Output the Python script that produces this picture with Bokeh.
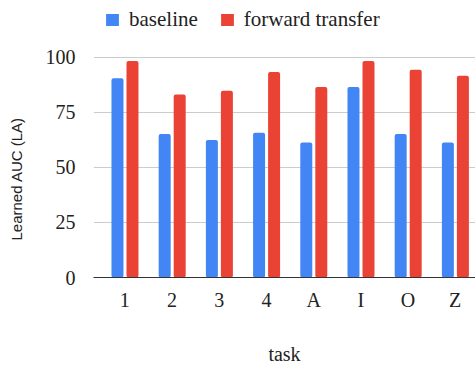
import math
from bokeh.plotting import figure
from bokeh.models import Range1d, FixedTicker, Legend, LegendItem, Title, ColumnDataSource
from bokeh.transform import dodge
from bokeh.embed import file_html
from bokeh.resources import INLINE

tasks = ["1", "2", "3", "4", "A", "I", "O", "Z"]
baseline = [90.4, 65.1, 62.4, 65.7, 61.3, 86.5, 65.1, 61.3]
forward_transfer = [98.3, 83.1, 84.8, 93.3, 86.5, 98.3, 94.3, 91.6]
y_ticks = [0, 25, 50, 75, 100]

BLUE = "#4285F4"
RED = "#EA4335"
SERIF = "Liberation Serif"
SANS = "Liberation Sans"

xs = list(range(len(tasks)))
src = ColumnDataSource(dict(x=xs, base=baseline, fwd=forward_transfer))

p = figure(width=475, height=368, output_backend="svg", toolbar_location=None,
           x_range=Range1d(-0.663, 7.43), y_range=Range1d(0, 125.7),
           min_border_left=93, min_border_right=0, min_border_top=0, min_border_bottom=91)
p.outline_line_color = None
p.background_fill_color = "white"
p.border_fill_color = "white"

r1 = p.vbar(x=dodge("x", -0.155, range=p.x_range), top="base", width=0.254, source=src,
            fill_color=BLUE, line_color=None, border_radius=2)
r2 = p.vbar(x=dodge("x", 0.163, range=p.x_range), top="fwd", width=0.254, source=src,
            fill_color=RED, line_color=None, border_radius=2)

# x axis
p.xaxis.ticker = FixedTicker(ticks=xs)
p.xaxis.major_label_overrides = {i: t for i, t in enumerate(tasks)}
p.xaxis.major_tick_line_color = None
p.xaxis.minor_tick_line_color = None
p.xaxis.axis_line_color = "#333333"
p.xaxis.axis_line_width = 1
p.xaxis.major_label_text_font = SERIF
p.xaxis.major_label_text_font_size = "20px"
p.xaxis.major_label_text_color = "#222222"
p.xaxis.major_label_standoff = 5
p.xaxis.axis_label = "task"
p.xaxis.axis_label_text_font = SERIF
p.xaxis.axis_label_text_font_style = "normal"
p.xaxis.axis_label_text_font_size = "20px"
p.xaxis.axis_label_text_color = "#222222"
p.xaxis.axis_label_standoff = 29

# y axis
p.yaxis.ticker = FixedTicker(ticks=y_ticks)
p.yaxis.axis_line_color = None
p.yaxis.major_tick_line_color = None
p.yaxis.minor_tick_line_color = None
p.yaxis.major_label_text_font = SERIF
p.yaxis.major_label_text_font_size = "20px"
p.yaxis.major_label_text_color = "#222222"
p.yaxis.major_label_standoff = 12
# invisible spacer label to push the title outward
p.yaxis.axis_label = " "
p.yaxis.axis_label_text_font_size = "1px"
p.yaxis.axis_label_standoff = 10

p.xgrid.grid_line_color = None
p.ygrid.grid_line_color = "#cccccc"
p.ygrid.ticker = FixedTicker(ticks=y_ticks[1:])

ytitle = Title(text="Learned AUC (LA)", align="left", offset=37, standoff=8,
               text_font=SANS, text_font_size="15px", text_font_style="normal",
               text_color="#222222")
p.add_layout(ytitle, "left")

legend = Legend(items=[LegendItem(label="baseline", renderers=[r1]),
                       LegendItem(label="forward transfer", renderers=[r2])],
                orientation="horizontal", location=(11, 245))
legend.border_line_color = None
legend.background_fill_alpha = 0
legend.padding = 0
legend.margin = 0
legend.spacing = 21
legend.label_standoff = 9
legend.glyph_width = 16
legend.glyph_height = 15
legend.label_height = 20
legend.label_text_font = SERIF
legend.label_text_font_size = "21px"
legend.label_text_color = "#222222"
p.add_layout(legend)

open("out.html", "w").write(file_html(p, INLINE))
